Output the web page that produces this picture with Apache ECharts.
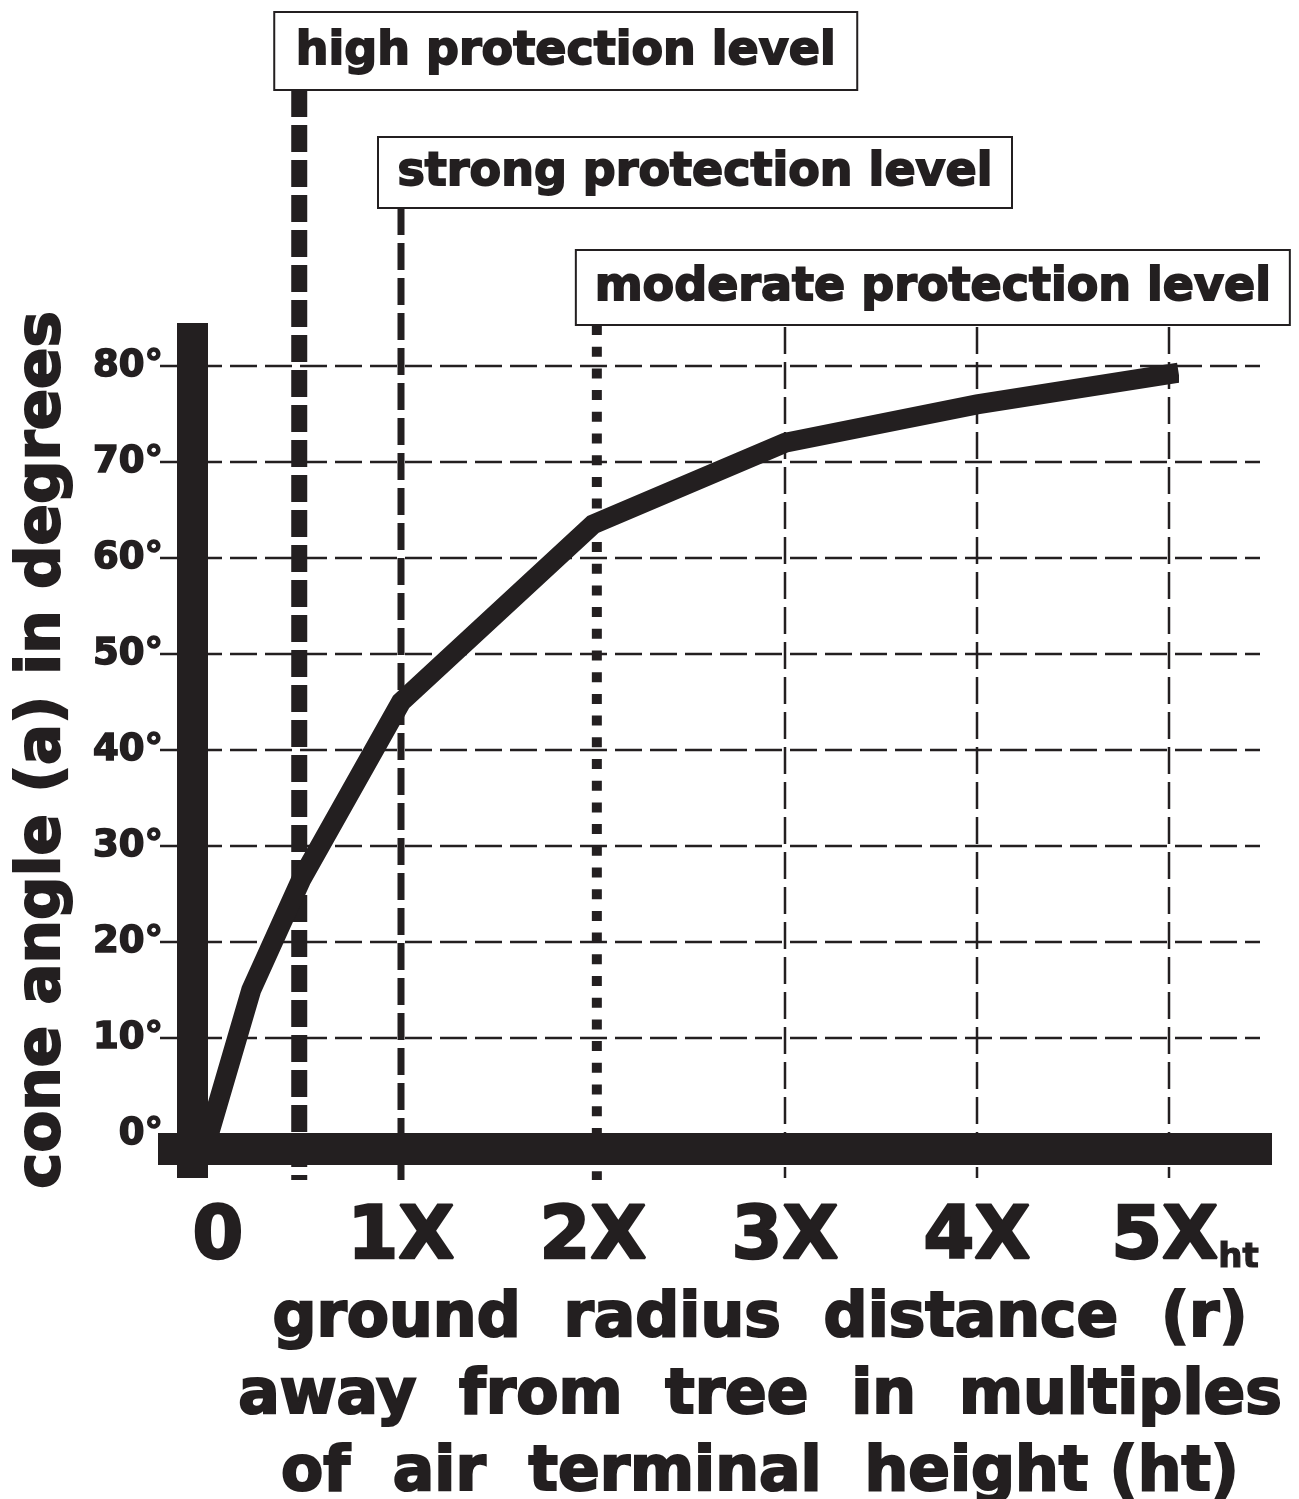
<!DOCTYPE html>
<html><head><meta charset="utf-8">
<script src="https://cdn.jsdelivr.net/npm/echarts@6/dist/echarts.min.js"></script>
<style>html,body{margin:0;padding:0;background:#fff;overflow:hidden}#c{width:1299px;height:1499px}</style>
</head><body><div id="c"></div>
<script>
// ---- data ----
const xTicks = [0, 1, 2, 3, 4, 5];
const xTickLabels = ['0', '1X', '2X', '3X', '4X', '5X'];
const xLastSub = 'ht';
const yTicks = [0, 10, 20, 30, 40, 50, 60, 70, 80];
const yTickLabels = ['0°', '10°', '20°', '30°', '40°', '50°', '60°', '70°', '80°'];
const curveX = [0, 0.22, 0.48, 1, 2, 3, 4, 5.05];
const curveY = [0, 15, 26.5, 45, 63.5, 72, 76, 79.3];
const levelNames = ['high protection level', 'strong protection level', 'moderate protection level'];
const levelX = [0.47, 1, 2.02];
const gridX = [3, 4, 5];
const yAxisTitle = 'cone angle (a) in degrees';
const xAxisTitle = ['ground  radius  distance  (r)', 'away  from  tree  in  multiples', 'of  air  terminal  height (ht)'];

// ---- styles ----
const INK = '#231f20';
const FONT = '"DejaVu Sans", "Liberation Sans", sans-serif';
const levelStyle = [
  { lw: 16, dash: [27, 8], boxLeft: -25, boxTop: 12, boxW: 583, boxH: 78 },
  { lw: 7, dash: [27, 8], boxLeft: -23, boxTop: 137, boxW: 634, boxH: 71 },
  { lw: 10, dash: [10, 11.7], boxLeft: -21, boxTop: 250, boxW: 714, boxH: 75 }
];

const chart = echarts.init(document.getElementById('c'), null, { renderer: 'canvas', width: 1299, height: 1499 });

function decor(params, api) {
  const cs = params.coordSys;
  const o = api.coord([0, 0]);
  const x0 = o[0], y0 = o[1];
  const rightX = cs.x + cs.width;
  const children = [];
  yTicks.forEach(function (v) {
    if (v === 0) return;
    const y = api.coord([0, v])[1];
    children.push({ type: 'line', shape: { x1: x0 - 49, y1: y, x2: rightX + 91, y2: y },
      style: { stroke: INK, lineWidth: 2.5, lineDash: [27, 8], fill: null } });
  });
  const gridTop = levelStyle[2].boxTop + levelStyle[2].boxH + 2;
  gridX.forEach(function (v) {
    const x = api.coord([v, 0])[0];
    children.push({ type: 'line', shape: { x1: x, y1: gridTop, x2: x, y2: y0 + 44 },
      style: { stroke: INK, lineWidth: 2.5, lineDash: [27, 8], fill: null } });
  });
  levelX.forEach(function (v, i) {
    const s = levelStyle[i];
    const x = api.coord([v, 0])[0];
    const top = s.boxTop + s.boxH;
    children.push({ type: 'line', shape: { x1: x, y1: top, x2: x, y2: y0 + 46 },
      style: { stroke: INK, lineWidth: s.lw, lineDash: s.dash, fill: null } });
    children.push({ type: 'rect', shape: { x: x + s.boxLeft, y: s.boxTop, width: s.boxW, height: s.boxH },
      style: { fill: '#fff', stroke: INK, lineWidth: 2 } });
    children.push({ type: 'text', x: x + s.boxLeft + s.boxW / 2, y: s.boxTop + s.boxH / 2 + 1,
      style: { text: levelNames[i], fill: INK, stroke: INK, lineWidth: 1.8, font: 'bold 46px ' + FONT, align: 'center', verticalAlign: 'middle' } });
  });
  return { type: 'group', children: children };
}

function bars(params, api) {
  const cs = params.coordSys;
  const o = api.coord([0, 0]);
  const x0 = o[0], y0 = o[1];
  const topY = api.coord([0, 80])[1];
  const rightX = cs.x + cs.width;
  return { type: 'group', children: [
    { type: 'rect', shape: { x: x0 - 32, y: topY - 43, width: 31, height: (y0 + 44) - (topY - 43) }, style: { fill: INK } },
    { type: 'rect', shape: { x: x0 - 51, y: y0 - 1, width: (rightX + 103) - (x0 - 51), height: 32 }, style: { fill: INK } }
  ] };
}

const option = {
  animation: false,
  backgroundColor: '#fff',
  grid: { left: 209, width: 960, top: 366, height: 768, containLabel: false, outerBoundsMode: 'none' },
  xAxis: {
    type: 'value', min: 0, max: 5, interval: 1,
    axisLine: { show: false }, axisTick: { show: false }, splitLine: { show: false },
    axisLabel: {
      margin: 105, verticalAlign: 'middle', color: INK, fontSize: 73, fontWeight: 'bold', fontFamily: FONT,
      textBorderColor: INK, textBorderWidth: 2.5,
      formatter: function (v) {
        const i = xTicks.indexOf(v);
        if (i < 0) return '';
        if (i === 0) return '{z|' + xTickLabels[i] + '}';
        if (i === xTicks.length - 1) return '{a|' + xTickLabels[i] + '}{s|' + xLastSub + '}';
        return xTickLabels[i];
      },
      rich: {
        z: { fontSize: 73, fontWeight: 'bold', fontFamily: FONT, color: INK, textBorderColor: INK, textBorderWidth: 2.5, padding: [0, 0, 0, 18] },
        a: { fontSize: 73, fontWeight: 'bold', fontFamily: FONT, color: INK, textBorderColor: INK, textBorderWidth: 2.5, padding: [0, 0, 0, 32], verticalAlign: 'bottom' },
        s: { fontSize: 34, fontWeight: 'bold', fontFamily: FONT, color: INK, textBorderColor: INK, textBorderWidth: 1.2, verticalAlign: 'bottom' }
      }
    },
    name: xAxisTitle.join('\n'), nameLocation: 'middle', nameGap: 138,
    nameTextStyle: { fontSize: 61.5, fontWeight: 'bold', fontFamily: FONT, color: INK, lineHeight: 77, align: 'center',
      textBorderColor: INK, textBorderWidth: 2.2, padding: [0, 0, 0, 142] }
  },
  yAxis: {
    type: 'value', min: 0, max: 80, interval: 10,
    axisLine: { show: false }, axisTick: { show: false }, splitLine: { show: false },
    axisLabel: {
      margin: 46, color: INK, fontSize: 37, fontWeight: 'bold', fontFamily: FONT, textBorderColor: INK, textBorderWidth: 1.6,
      formatter: function (v) { const i = yTicks.indexOf(v); return i < 0 ? '' : yTickLabels[i]; }
    },
    name: yAxisTitle, nameLocation: 'middle', nameGap: 135,
    nameTextStyle: { fontSize: 61, fontWeight: 'bold', fontFamily: FONT, color: INK, textBorderColor: INK, textBorderWidth: 2 }
  },
  series: [
    { type: 'custom', renderItem: decor, data: [[0, 0]], silent: true, clip: false, z: 1 },
    { type: 'line', data: curveX.map(function (x, i) { return [x, curveY[i]]; }), symbol: 'none', clip: false, silent: true, z: 5,
      lineStyle: { width: 20, color: INK, join: 'miter', cap: 'butt' } },
    { type: 'custom', renderItem: bars, data: [[0, 0]], silent: true, clip: false, z: 6 }
  ]
};
chart.setOption(option);
</script>
</body></html>
